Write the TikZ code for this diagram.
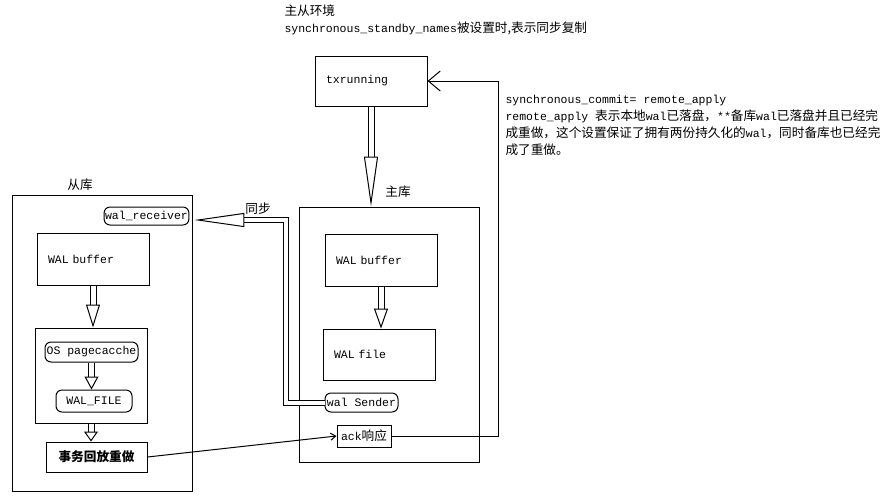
\documentclass[tikz,border=0pt]{standalone}
\usepackage{fontspec}
\setmainfont{Liberation Mono}
\newfontfamily\cjk{Noto Sans CJK SC}[Scale=1.1]
\newcommand\zh[1]{{\cjk #1}}
\usetikzlibrary{arrows.meta}

\tikzset{
  blk/.style={draw, text width=90pt, inner xsep=11pt, minimum height=51pt, align=left},
  pill/.style={draw, rounded corners=6pt, inner sep=1pt},
  hollow/.style={double, double distance=5pt, -{Triangle[open, length=#1, width=14pt]}},
  hollow/.default=20pt
}

\begin{document}
\begin{tikzpicture}[x=1pt, y=-1pt, line width=1pt,
    every node/.style={font=\fontsize{11.5}{17}\selectfont}]
      \useasboundingbox (0,0) rectangle (896,499);
      % heading and note
      \node[anchor=north west, align=left, inner sep=0pt] (title) at (284,4)
        {\zh{主从环境}\\synchronous\_standby\_names\zh{被设置时,表示同步复制}};
      \node[anchor=north west, align=left, inner sep=0pt] (note) at (505,95)
        {synchronous\_commit= remote\_apply\\
         remote\_apply \zh{表示本地}wal\zh{已落盘，}**\zh{备库}wal\zh{已落盘并且已经完}\\
         \zh{成重做，这个设置保证了拥有两份持久化的}wal\zh{，同时备库也已经完}\\
         \zh{成了重做。}};
      % primary
      \node[blk, minimum height=50pt] (txrun) at (371,81) {txrunning};
      \node[draw, minimum width=180pt, minimum height=255pt] (master) at (389,334.5) {};
      \node (masterlbl) at (398,192) {\zh{主库}};
      \node[blk, minimum height=52pt] (mbuf) at (381,260) {WAL buffer};
      \node[blk] (mfile) at (379,354.5) {WAL file};
      \node[pill, minimum width=73pt, minimum height=19pt] (sender) at (361.5,402.5) {wal Sender};
      \node[draw, minimum width=54pt, minimum height=22pt, inner sep=1pt] (ack) at (364,436) {ack\zh{响应}};
      % standby
      \node[draw, minimum width=180pt, minimum height=296pt] (slave) at (102,343) {};
      \node (slavelbl) at (80,185) {\zh{从库}};
      \node[pill, minimum width=81pt, minimum height=18pt] (receiver) at (146.5,216) {wal\_receiver};
      \node[blk, minimum height=52pt] (sbuf) at (93,259) {WAL buffer};
      \node[draw, minimum width=112pt, minimum height=95pt] (oscache) at (91,375.5) {};
      \node[pill, minimum width=93pt, minimum height=20pt] (pcache) at (91.5,352) {OS pagecacche};
      \node[pill, minimum width=76pt, minimum height=22pt] (sfile) at (94,401) {WAL\_FILE};
      \node[draw, minimum width=101pt, minimum height=30pt, font=\fontsize{11.5}{17}\selectfont\bfseries] (replay) at (96.5,457) {\zh{事务回放重做}};
      \node (synclbl) at (258,209) {\zh{同步}};
      \coordinate (turn) at (285.5,220);
      \coordinate (back) at (498,0);
      % connectors
      \draw[hollow=50pt] (txrun.south) -- (txrun.south |- master.north);
      \draw[hollow] (mbuf.south) -- (mbuf.south |- mfile.north);
      \draw[hollow=23pt] (sbuf.south) -- (sbuf.south |- oscache.north);
      \draw[hollow=13pt] (pcache.south) -- (pcache.south |- sfile.north);
      \draw[hollow=10pt] (oscache.south) -- (oscache.south |- replay.north);
      \draw[hollow=50pt, double distance=4pt, shorten >=5pt] (sender.west) -| (turn) -- (turn -| receiver.east);
      \draw[-{Straight Barb[length=5pt,width=7pt]}] (replay.east) -- (ack.west);
      \draw[-{Straight Barb[length=12pt,width=20pt]}] (ack.east) -- (ack.east -| back) |- (txrun.east);
\end{tikzpicture}
\end{document}
